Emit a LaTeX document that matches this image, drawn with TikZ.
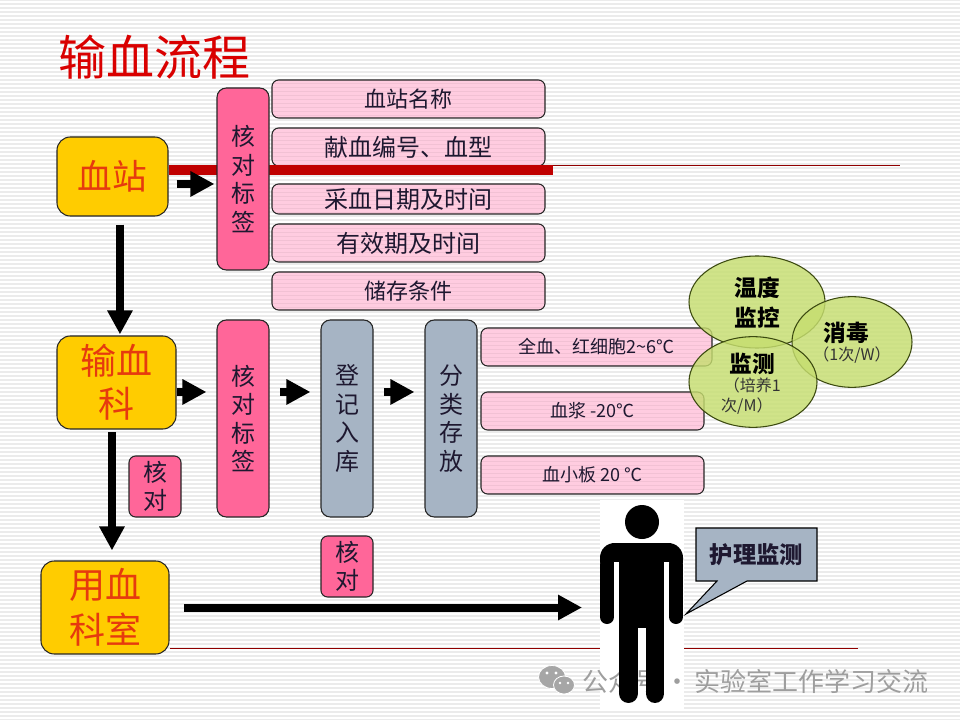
\documentclass[tikz,border=0pt]{standalone}
\usepackage{fontspec}
\setmainfont{Noto Sans CJK SC}
\usetikzlibrary{arrows.meta,shapes.geometric}
\definecolor{ybox}{HTML}{FFCC00}
\definecolor{ytext}{HTML}{E63A0E}
\definecolor{hotpink}{HTML}{FF6699}
\definecolor{palepink}{HTML}{FFCCE0}
\definecolor{slate}{HTML}{A6B4C4}
\definecolor{barred}{HTML}{C00000}
\definecolor{leaf}{HTML}{C6DE70}
\definecolor{edgeol}{HTML}{3C4A10}
\definecolor{inkd}{HTML}{1E1830}
\newcommand{\fs}[2]{\fontsize{#1}{#2}\selectfont}
\newcommand{\bx}[7]{%
  \pgfmathsetmacro\ww{(#5-#3)*.75}%
  \pgfmathsetmacro\hh{(#6-#4)*.75}%
  \node[#1,minimum width=\ww pt,minimum height=\hh pt] (#2) at ({(#3+#5)/2},{(#4+#6)/2}) {#7};}
\tikzset{
  basebox/.style={draw=black!85,line width=.8pt,inner sep=0pt,align=center,anchor=center},
  yellowbox/.style={basebox,fill=ybox,rounded corners=10pt,text=ytext},
  tallpink/.style={basebox,fill=hotpink,rounded corners=7pt,text=inkd,font=\fs{18}{21.4}},
  tallslate/.style={basebox,fill=slate,rounded corners=7pt,text=inkd,font=\fs{18}{21.4}},
  lightbox/.style={basebox,fill=palepink,rounded corners=5pt,text=inkd,
    path picture={\foreach \sy in {-60,-56,...,60}{\draw[black,opacity=.05,line width=.7pt] (-400,\sy) -- (400,\sy);}}},
  blockarrow/.style={line width=6pt,-{Triangle[length=18pt,width=18pt]},black},
  blobby/.style={ellipse,draw=edgeol,line width=.8pt,fill=leaf,fill opacity=.82,inner sep=0pt},
  blobtext/.style={text=black,align=center,font=\bfseries\fs{17}{22.5}},
  blobnote/.style={text=black!80,font=\fs{12}{14.5}},
  thinrule/.style={draw=barred!75!black,line width=.7pt},
}
\begin{document}
\begin{tikzpicture}[x=.75pt,y=-.75pt]
\useasboundingbox (0,0) rectangle (960,720);
\fill[white] (0,0) rectangle (960,720);
\foreach \sy in {0,4,...,720}{\draw[black!8,line width=.9pt] (0,\sy) -- (960,\sy);}

\node[text=red!85!black,inner sep=0pt,font=\fs{36}{40}] (title) at (154,57) {输血流程};

% rules
\coordinate (barend) at (553,170);
\coordinate (ruleA) at (553,165);
\coordinate (ruleB) at (900,165);
\coordinate (ruleC) at (170,648);
\coordinate (ruleD) at (858,648);
\draw[thinrule] (ruleA) -- (ruleB);
\draw[thinrule] (ruleC) -- (ruleD);

% info boxes
\bx{lightbox,font=\fs{16.5}{20}}{info1}{272}{80}{545}{118}{血站名称}
\bx{lightbox,font=\fs{18}{20}}{info2}{272}{128}{545}{166}{献血编号、血型}
\bx{lightbox,font=\fs{18}{20}}{info3}{272}{184}{545}{214}{采血日期及时间}
\bx{lightbox,font=\fs{18}{20}}{info4}{272}{224}{545}{262}{有效期及时间}
\bx{lightbox,font=\fs{16.5}{20}}{info5}{272}{272}{545}{310}{储存条件}

\bx{yellowbox,font=\fs{26}{30}}{station}{57}{137}{168}{216}{血站}
\draw[barred,line width=7.5pt] (station.east |- barend) -- (barend);

\bx{tallpink}{check1}{217}{88}{269}{270}{核\\对\\标\\签}
\bx{yellowbox,font=\fs{27}{32}}{dept}{57}{336}{176}{429}{输血\\科}
\bx{yellowbox,font=\fs{27}{34}}{ward}{41}{561}{169}{654}{用血\\科室}
\bx{tallpink}{check2}{217}{320}{269}{517}{核\\对\\标\\签}
\bx{tallslate}{reg}{321}{320}{373}{517}{登\\记\\入\\库}
\bx{tallslate}{sort}{425}{320}{477}{517}{分\\类\\存\\放}
\bx{tallpink,rounded corners=5pt}{check3}{129}{456}{181}{517}{核\\对}
\bx{tallpink,rounded corners=5pt}{check4}{321}{536}{373}{597}{核\\对}

\bx{lightbox,font=\fs{13.5}{16}}{store1}{481}{328}{712}{366}{全血、红细胞2\textasciitilde 6℃}
\bx{lightbox,font=\fs{13.5}{16}}{store2}{481}{392}{704}{430}{血浆 -20℃}
\bx{lightbox,font=\fs{13.5}{16}}{store3}{481}{456}{704}{494}{血小板 20 ℃}

% ellipses
\node[blobby,minimum width=102pt,minimum height=69pt] (tempE) at (757,302) {};
\node[blobby,minimum width=90pt,minimum height=68pt] (disE) at (852,342) {};
\node[blobby,minimum width=96pt,minimum height=68pt] (monE) at (753,382) {};
\node[blobtext] (tempT) at (757,303) {温度\\监控};
\node[blobtext] (disT) at (846,333) {消毒};
\node[blobnote] (disN) at (852,355) {（1次/W）};
\node[blobtext] (monT) at (752,364) {监测};
\node[blobnote,align=left] (monN) at (751,396) {\,（培养1\\次/M）};

% arrows
\draw[blockarrow,shorten <=6pt,shorten >=1.5pt] ([yshift=-5.6pt]station.east) -- ([yshift=-5.6pt]station.east -| check1.west);
\draw[blockarrow,shorten <=6pt,shorten >=.8pt] ([xshift=5.6pt]station.south) -- ([xshift=5.6pt]station.south |- dept.north);
\draw[blockarrow,shorten >=7.5pt] ([yshift=-7.1pt]dept.east) -- ([yshift=-7.1pt]dept.east -| check2.west);
\draw[blockarrow,shorten <=8.2pt,shorten >=7.5pt] ([yshift=19.9pt]check2.east) -- ([yshift=19.9pt]reg.west);
\draw[blockarrow,shorten <=8.2pt,shorten >=7.5pt] ([yshift=19.9pt]reg.east) -- ([yshift=19.9pt]sort.west);
\draw[blockarrow,shorten <=2.2pt,shorten >=7.5pt] ([xshift=-3.4pt]dept.south) -- ([xshift=-3.4pt]dept.south |- ward.north);
\coordinate (patient) at (582,607.5);
\draw[blockarrow,shorten <=11.2pt] (ward.east) -- (patient);

% person backdrop and watermark
\fill[white] (600,500) rectangle (684,710);
\fill[black!35,draw=white,line width=.6pt] (552,677) ellipse (13.5 and 11.5);
\fill[black!35,draw=white,line width=.6pt] (564,685) ellipse (10.5 and 9);
\fill[white] (547,673) circle (1.6) (556,673) circle (1.6) (560,683) circle (1.3) (568,683) circle (1.3);
\node[text=black!38,inner sep=0pt,font=\fs{19.5}{22},anchor=west] (mark) at (582,682) {公众号\,·\,实验室工作学习交流};

% person
\fill[black] (642,522) circle (17);
\fill[black,rounded corners=11pt] (600,543) rectangle (683,575);
\fill[white] (614,562) rectangle (619,620) (664,562) rectangle (669,620);
\fill[black] (619,555) rectangle (664,628);
\draw[black,line width=10.5pt,line cap=round] (607,565) -- (607,617);
\draw[black,line width=10.5pt,line cap=round] (676,565) -- (676,617);
\draw[black,line width=14.2pt,line cap=round] (628.5,628) -- (628.5,693.5);
\draw[black,line width=14.2pt,line cap=round] (655,628) -- (655,693.5);

% callout
\coordinate (tailTip) at (686,614);
\coordinate (tailA) at (717,581);
\coordinate (tailB) at (747,581);
\draw[black,line width=.8pt,fill=slate] (696,528) -- (817,528) -- (817,581) -- (tailB) -- (tailTip) -- (tailA) -- (696,581) -- cycle;
\node[text=inkd,inner sep=0pt,font=\bfseries\fs{17.5}{20}] (nurse) at (756.5,555) {护理监测};
\end{tikzpicture}
\end{document}
